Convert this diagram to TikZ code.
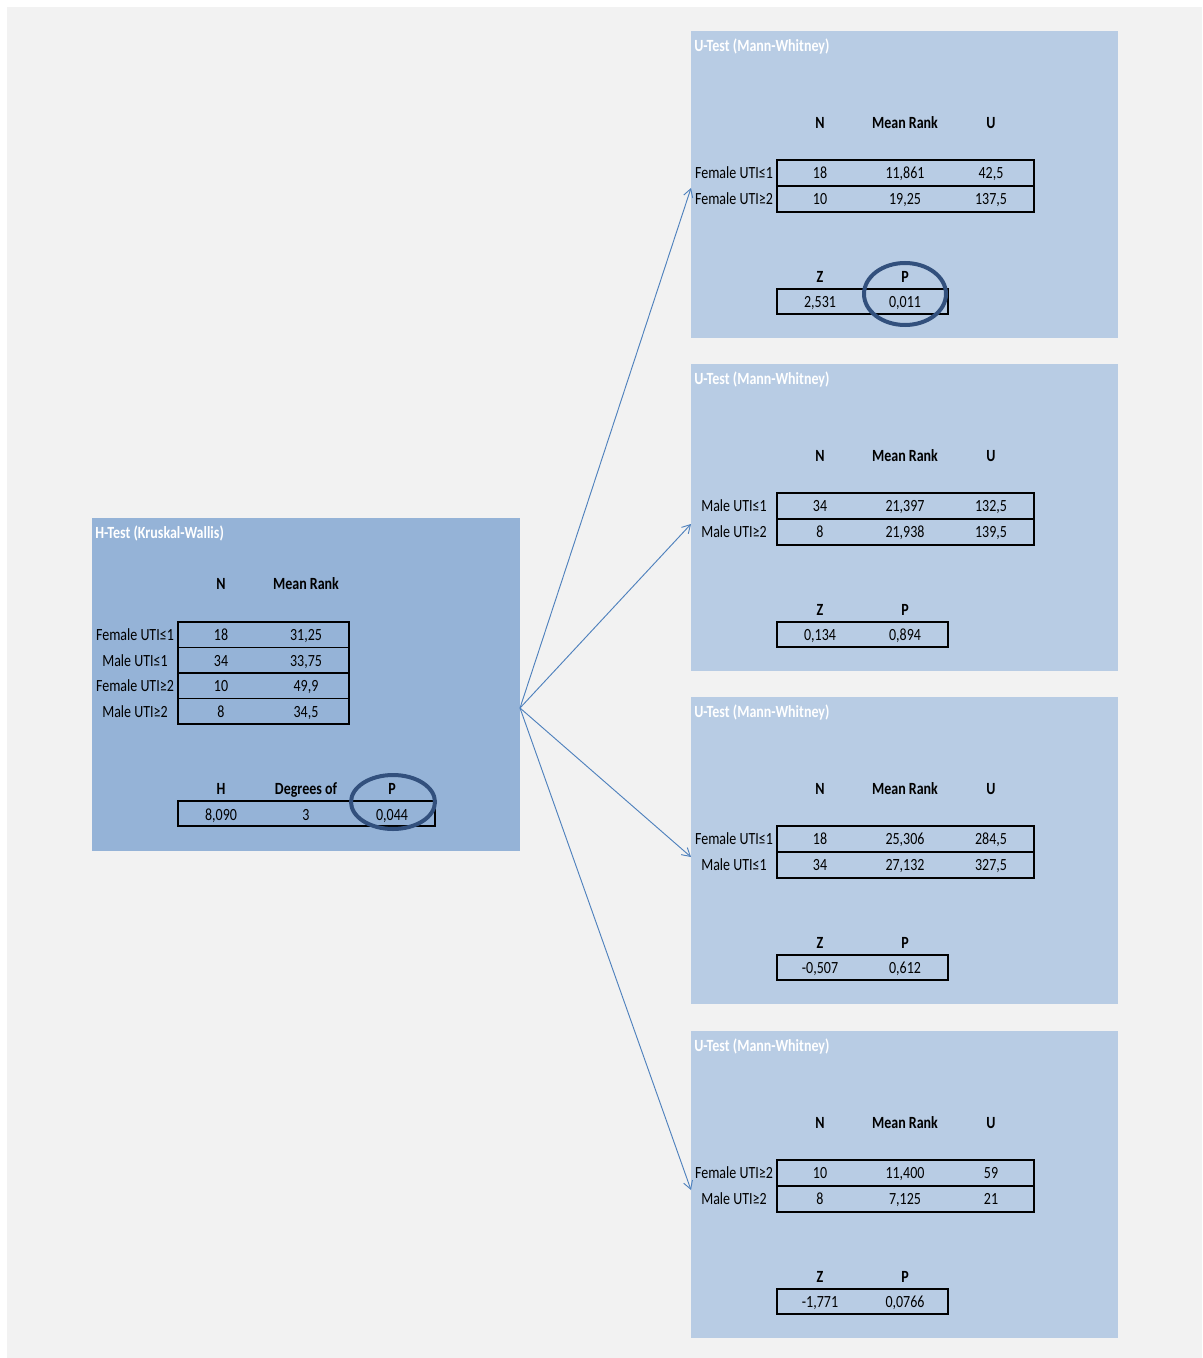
\documentclass[tikz,border=0pt]{standalone}
\usepackage{fontspec}
\setmainfont[FakeStretch=0.82]{Carlito}
\usetikzlibrary{arrows.meta}
\definecolor{bgc}{HTML}{F2F2F2}
\definecolor{hfill}{HTML}{95B3D7}
\definecolor{ufill}{HTML}{B8CCE4}
\definecolor{arrowc}{HTML}{4F81BD}
\definecolor{ringc}{RGB}{50,80,125}
\tikzset{
  hboxst/.style={anchor=north west,fill=hfill,inner sep=0pt,minimum width=321pt,minimum height=249.75pt},
  uboxst/.style={anchor=north west,fill=ufill,inner sep=0pt,minimum width=320.25pt,minimum height=230.25pt},
  titletxt/.style={anchor=west,inner sep=0pt,yshift=-2.4pt,text=white,text height=7.5pt,text depth=3.5pt,font=\fontsize{12.8}{14}\selectfont\bfseries},
  hdr/.style={inner sep=0pt,yshift=-2.4pt,text height=7.5pt,text depth=3.5pt,font=\fontsize{12.8}{14}\selectfont\bfseries},
  cell/.style={inner sep=0pt,yshift=-2.4pt,text height=7.5pt,text depth=3.5pt,font=\fontsize{12.8}{14}\selectfont},
  tbl/.style={draw=black,line width=1.2pt},
  ring/.style={draw=ringc,line width=3pt},
  conn/.style={draw=arrowc,line width=0.7pt,-{Straight Barb[length=6pt,width=7pt]}}
}
\newcommand\ubox[9]{%
 \begin{scope}[shift={(0,#1)}]
  \node[uboxst] (u#1) at (691,0) {};
  \node[titletxt] (u#1t) at (694,15) {U-Test (Mann-Whitney)};
  \node[hdr] (u#1hn) at (820,92) {N};
  \node[hdr] (u#1hm) at (905,92) {Mean Rank};
  \node[hdr] (u#1hu) at (991,92) {U};
  \draw[tbl] (777,129) rectangle (1034,155);
  \draw[tbl] (777,155) rectangle (1034,181);
  \node[cell] (u#1la) at (734,142) {#2};
  \node[cell] (u#1lb) at (734,168) {#3};
  \node[cell] (u#1na) at (820,142) {#4};
  \node[cell] (u#1ma) at (905,142) {#5};
  \node[cell] (u#1ua) at (991,142) {#6};
  \node[cell] (u#1nb) at (820,168) {#7};
  \node[cell] (u#1mb) at (905,168) {#8};
  \node[cell] (u#1ub) at (991,168) {#9};
 \end{scope}}
\newcommand\uzp[3]{%
 \begin{scope}[shift={(0,#1)}]
  \node[hdr] (u#1hz) at (820,246) {Z};
  \node[hdr] (u#1hp) at (905,246) {P};
  \draw[tbl] (777,258) rectangle (948,283);
  \node[cell] (u#1z) at (820,271) {#2};
  \node[cell] (u#1p) at (905,271) {#3};
 \end{scope}}
\begin{document}
\begin{tikzpicture}[x=0.75pt,y=-0.75pt]
\useasboundingbox (0,0) rectangle (1202,1358);
\fill[white] (0,0) rectangle (1202,1358);
\fill[bgc] (7,7) rectangle (1202,1358);
% H test
\begin{scope}[shift={(0,518)}]
  \node[hboxst] (hbox) at (92,0) {};
  \node[titletxt] (ht) at (95,15) {H-Test (Kruskal-Wallis)};
  \node[hdr] (hhn) at (221,66) {N};
  \node[hdr] (hhm) at (306,66) {Mean Rank};
  \draw[tbl] (178,104) rectangle (349,129.5);
  \draw[tbl] (178,129.5) rectangle (349,155);
  \draw[tbl] (178,155) rectangle (349,180.5);
  \draw[tbl] (178,180.5) rectangle (349,206);
  \node[cell] (hl1) at (135,117) {Female UTI≤1};
  \node[cell] (hl2) at (135,142.5) {Male UTI≤1};
  \node[cell] (hl3) at (135,168) {Female UTI≥2};
  \node[cell] (hl4) at (135,193.5) {Male UTI≥2};
  \node[cell] (hn1) at (221,117) {18};
  \node[cell] (hn2) at (221,142.5) {34};
  \node[cell] (hn3) at (221,168) {10};
  \node[cell] (hn4) at (221,193.5) {8};
  \node[cell] (hm1) at (306,117) {31,25};
  \node[cell] (hm2) at (306,142.5) {33,75};
  \node[cell] (hm3) at (306,168) {49,9};
  \node[cell] (hm4) at (306,193.5) {34,5};
  \node[hdr] (hhh) at (221,271) {H};
  \node[hdr] (hhd) at (306,271) {Degrees of};
  \node[hdr] (hhp) at (392,271) {P};
  \draw[tbl] (178,283) rectangle (435,308);
  \node[cell] (hh) at (221,297) {8,090};
  \node[cell] (hd) at (306,297) {3};
  \node[cell] (hp) at (392,297) {0,044};
  \draw[ring] (393,284) ellipse [x radius=42, y radius=27];
  \coordinate (hsrc) at (520,190);
\end{scope}
\ubox{31}{Female UTI≤1}{Female UTI≥2}{18}{11,861}{42,5}{10}{19,25}{137,5}
\uzp{31}{2,531}{0,011}
\draw[ring] (905,294) ellipse [x radius=41, y radius=31];
\ubox{364}{Male UTI≤1}{Male UTI≥2}{34}{21,397}{132,5}{8}{21,938}{139,5}
\uzp{364}{0,134}{0,894}
\ubox{697}{Female UTI≤1}{Male UTI≤1}{18}{25,306}{284,5}{34}{27,132}{327,5}
\uzp{697}{-0,507}{0,612}
\ubox{1031}{Female UTI≥2}{Male UTI≥2}{10}{11,400}{59}{8}{7,125}{21}
\uzp{1031}{-1,771}{0,0766}
\coordinate (t1) at (691,188);
\coordinate (t2) at (691,524);
\coordinate (t3) at (691,857);
\coordinate (t4) at (691,1190);
\draw[conn] (hsrc) -- (t1);
\draw[conn] (hsrc) -- (t2);
\draw[conn] (hsrc) -- (t3);
\draw[conn] (hsrc) -- (t4);
\end{tikzpicture}
\end{document}
